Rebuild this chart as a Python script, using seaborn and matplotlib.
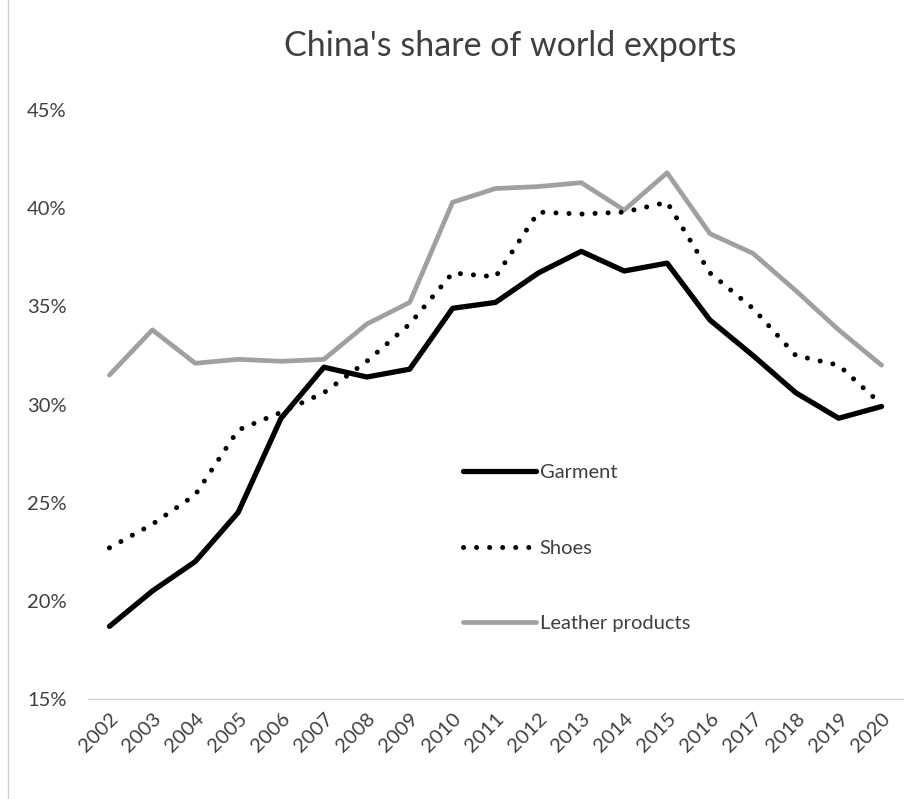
import matplotlib
matplotlib.use("Agg")
import matplotlib.pyplot as plt
from matplotlib.lines import Line2D
from matplotlib.ticker import PercentFormatter
import seaborn as sns
import pandas as pd

years = list(range(2002, 2021))
garment = [18.7, 20.5, 22.0, 24.5, 29.3, 31.9, 31.4, 31.8, 34.9, 35.2, 36.7, 37.8, 36.8, 37.2, 34.3, 32.5, 30.6, 29.3, 29.9]
shoes = [22.7, 23.9, 25.4, 28.7, 29.6, 30.6, 32.2, 34.1, 36.7, 36.5, 39.8, 39.7, 39.8, 40.3, 36.7, 34.9, 32.5, 32.0, 30.0]
leather = [31.5, 33.8, 32.1, 32.3, 32.2, 32.3, 34.1, 35.2, 40.3, 41.0, 41.1, 41.3, 39.9, 41.8, 38.7, 37.7, 35.8, 33.8, 32.0]
series_names = ["Garment", "Shoes", "Leather products"]
yticks = [15, 20, 25, 30, 35, 40, 45]

sns.set_theme(style="white")
plt.rcParams['font.family'] = ['Lato', 'DejaVu Sans']

fig = plt.figure(figsize=(9.19, 7.99), dpi=100)
ax = fig.add_axes([88/919, 1-699/799, (903-88)/919, (699-110)/799])

df = pd.DataFrame({"year": years, "Garment": garment, "Shoes": shoes, "Leather products": leather})

sns.lineplot(data=df, x="year", y="Leather products", ax=ax, color="#a0a0a0", linewidth=3.4,
             label="Leather products", solid_capstyle="round")
sns.lineplot(data=df, x="year", y="Shoes", ax=ax, color="black", linewidth=3.6,
             label="Shoes", dashes=False)
sns.lineplot(data=df, x="year", y="Garment", ax=ax, color="black", linewidth=3.8,
             label="Garment", solid_capstyle="round")

# dotted style for shoes
shoe_line = ax.lines[1]
shoe_line.set_linestyle((0, (0.01, 2.6)))
shoe_line.set_dash_capstyle("round")

ax.set_xlim(2001.5, 2020.5)
ax.set_ylim(15, 45)
ax.set_yticks(yticks)
ax.yaxis.set_major_formatter(PercentFormatter(decimals=0))
ax.set_xticks(years)
ax.set_xticklabels([str(y) for y in years], rotation=45, ha="right", rotation_mode="anchor")
ax.set_xlabel("")
ax.set_ylabel("")
ax.grid(False)
for s in ["top", "right", "left"]:
    ax.spines[s].set_visible(False)
ax.spines["bottom"].set_color("#d0d0d0")
ax.spines["bottom"].set_linewidth(1.0)
ax.tick_params(axis="both", length=0, labelsize=14.5, colors="#404040")
ax.tick_params(axis="x", pad=8)
for lbl in ax.get_yticklabels():
    lbl.set_horizontalalignment("left")
ax.tick_params(axis="y", pad=44)

# legend
h = [ax.lines[2], ax.lines[1], ax.lines[0]]
leg = ax.legend(handles=h, labels=series_names, loc="upper left",
                bbox_to_anchor=(445/919, 1-446/799), bbox_transform=fig.transFigure,
                frameon=False, fontsize=14.5, handlelength=3.6, labelspacing=2.9,
                handletextpad=0.2)
for t in leg.get_texts():
    t.set_color("#404040")

fig.suptitle("China's share of world exports", x=510/919, y=1-46/799, va="center",
             fontsize=24.5, color="#404040")

fig.add_artist(Line2D([8/919, 8/919], [0, 1], color="#d0d0d0", linewidth=1.0))

fig.savefig("out.png", dpi=100, facecolor="white")
